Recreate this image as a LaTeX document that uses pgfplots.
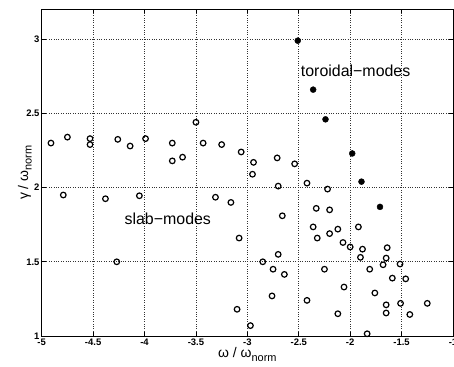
\documentclass[border=0pt]{standalone}
\usepackage{fontspec}
\setmainfont{Liberation Sans}
\usepackage{pgfplots}
\pgfplotsset{compat=1.18}

\newcommand{\normsub}{\raisebox{-0.5ex}{\fontsize{11}{11}\selectfont norm}}

\begin{document}
\begin{tikzpicture}
\useasboundingbox (-41.7bp,-31bp) rectangle (412.3bp,336bp);
\begin{axis}[
  at={(0,0)}, anchor=south west,
  scale only axis,
  width=411.3bp, height=326.5bp,
  xmin=-5, xmax=-1, ymin=1, ymax=3.2,
  clip=false,
  axis line style={line width=1bp, black},
  xtick={-5,-4.5,-4,-3.5,-3,-2.5,-2,-1.5,-1},
  xticklabels={-5,-4.5,-4,-3.5,-3,-2.5,-2,-1.5,-1},
  ytick={1,1.5,2,2.5,3},
  yticklabels={1,1.5,2,2.5,3},
  tick align=inside,
  major tick length=4bp,
  tick style={black, line width=0.8bp},
  grid=major,
  grid style={dotted, black!80, line width=0.6bp},
  ticklabel style={font=\bfseries\fontsize{9.5}{9.5}\selectfont},
  xticklabel style={inner sep=3bp},
  yticklabel style={inner sep=2bp},
  xlabel={ω / ω\normsub},
  ylabel={γ / ω\normsub},
  label style={font=\fontsize{14}{14}\selectfont},
  xlabel style={at={(axis description cs:0.5,-0.067)}, anchor=base, inner sep=0pt},
  ylabel style={at={(axis description cs:-0.0333,0.5)}, anchor=base, rotate=0, inner sep=0pt},
]
% slab modes (open circles)
\addplot[only marks, mark=o, mark size=2.8bp, mark options={line width=1.2bp, black}] coordinates {
  (-4.91,2.30) (-4.75,2.34) (-4.53,2.33) (-4.53,2.29) (-4.26,2.325)
  (-4.14,2.28) (-3.99,2.33) (-3.73,2.30) (-3.73,2.18) (-3.63,2.205)
  (-3.50,2.44) (-3.43,2.30) (-3.25,2.29) (-3.06,2.24) (-2.94,2.17)
  (-2.95,2.09) (-2.71,2.20) (-2.54,2.16) (-2.70,2.01) (-2.42,2.03)
  (-2.22,1.99) (-4.79,1.95) (-4.38,1.925) (-4.05,1.945) (-4.27,1.50)
  (-3.31,1.935) (-3.16,1.90) (-2.66,1.81) (-2.33,1.86) (-2.20,1.85)
  (-2.36,1.735) (-2.32,1.66) (-2.20,1.69) (-2.12,1.72) (-1.92,1.735)
  (-2.07,1.63) (-2.00,1.60) (-1.88,1.585) (-1.64,1.595) (-1.90,1.53)
  (-1.65,1.525) (-1.68,1.48) (-1.515,1.485) (-1.81,1.45) (-1.59,1.39)
  (-1.46,1.385) (-1.76,1.29) (-1.65,1.21) (-1.51,1.22) (-1.25,1.22)
  (-1.65,1.155) (-1.42,1.145) (-1.835,1.015) (-3.08,1.66) (-2.85,1.50)
  (-2.70,1.55) (-2.75,1.45) (-2.64,1.415) (-2.25,1.45) (-2.06,1.33)
  (-2.76,1.27) (-2.42,1.24) (-3.10,1.18) (-2.12,1.15) (-2.97,1.07)
};
% toroidal modes (filled dots)
\addplot[only marks, mark=*, mark size=3bp, mark options={black}] coordinates {
  (-2.51,2.99) (-2.36,2.66) (-2.24,2.46) (-1.98,2.23) (-1.89,2.04) (-1.71,1.87)
};
\node[anchor=base west, inner sep=0pt, font=\fontsize{16}{16}\selectfont] at (axis cs:-2.481,2.751) {toroidal−modes};
\node[anchor=base west, inner sep=0pt, font=\fontsize{16}{16}\selectfont] at (axis cs:-4.196,1.754) {slab−modes};
\end{axis}
\end{tikzpicture}
\end{document}
